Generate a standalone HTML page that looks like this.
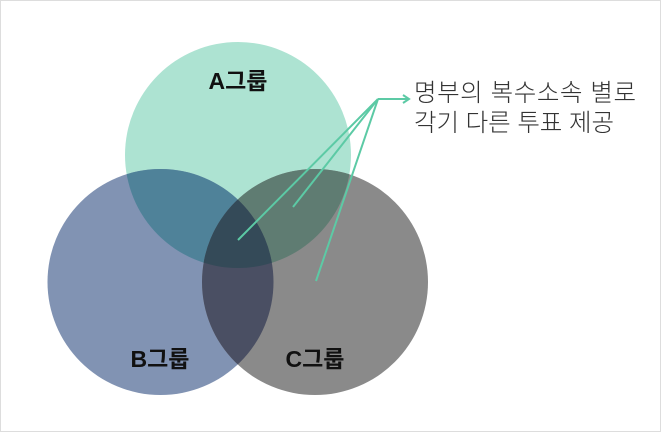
<!DOCTYPE html>
<html><head><meta charset="utf-8"><style>body{margin:0;background:#fff}svg{display:block}</style></head><body>
<svg width="661" height="432" viewBox="0 0 661 432" xmlns="http://www.w3.org/2000/svg">
<rect x="0.5" y="0.5" width="660" height="431" fill="#fff" stroke="#ddd"/>
<defs>
<clipPath id="ca"><circle cx="238" cy="155" r="113"/></clipPath>
<clipPath id="cb"><circle cx="160.5" cy="282" r="113"/></clipPath>
<clipPath id="cc"><circle cx="315" cy="282" r="113"/></clipPath>
</defs>
<circle cx="238" cy="155" r="113" fill="#ade3d2"/>
<circle cx="160.5" cy="282" r="113" fill="#8193b3"/>
<circle cx="315" cy="282" r="113" fill="#8a8a8a"/>
<g clip-path="url(#ca)"><circle cx="160.5" cy="282" r="113" fill="#4f8299"/><circle cx="315" cy="282" r="113" fill="#5f7c72"/></g>
<g clip-path="url(#cb)"><circle cx="315" cy="282" r="113" fill="#4a4f63"/></g>
<g clip-path="url(#ca)"><g clip-path="url(#cb)"><circle cx="315" cy="282" r="113" fill="#344a58"/></g></g>
<g stroke="#5ccaa5" stroke-width="2" fill="none">
<line x1="378" y1="99" x2="238" y2="240"/>
<line x1="378" y1="99" x2="293" y2="207"/>
<line x1="378" y1="99" x2="316" y2="281"/>
<line x1="378" y1="99" x2="408" y2="99"/>
<polyline points="403,95 409,99 403,103"/>
</g>
<g font-family="Liberation Sans, Noto Sans CJK KR, sans-serif" font-size="23" fill="#111" font-weight="bold">
<text x="238" y="89" text-anchor="middle">A그룹</text>
<text x="160" y="367" text-anchor="middle">B그룹</text>
<text x="315" y="367" text-anchor="middle">C그룹</text>
</g>
<g font-family="Liberation Sans, Noto Sans CJK KR, sans-serif" font-size="24.5" fill="#333" font-weight="300">
<text x="414" y="101" textLength="222">명부의 복수소속 별로</text>
<text x="414" y="131" textLength="200">각기 다른 투표 제공</text>
</g>
</svg>
</body></html>
